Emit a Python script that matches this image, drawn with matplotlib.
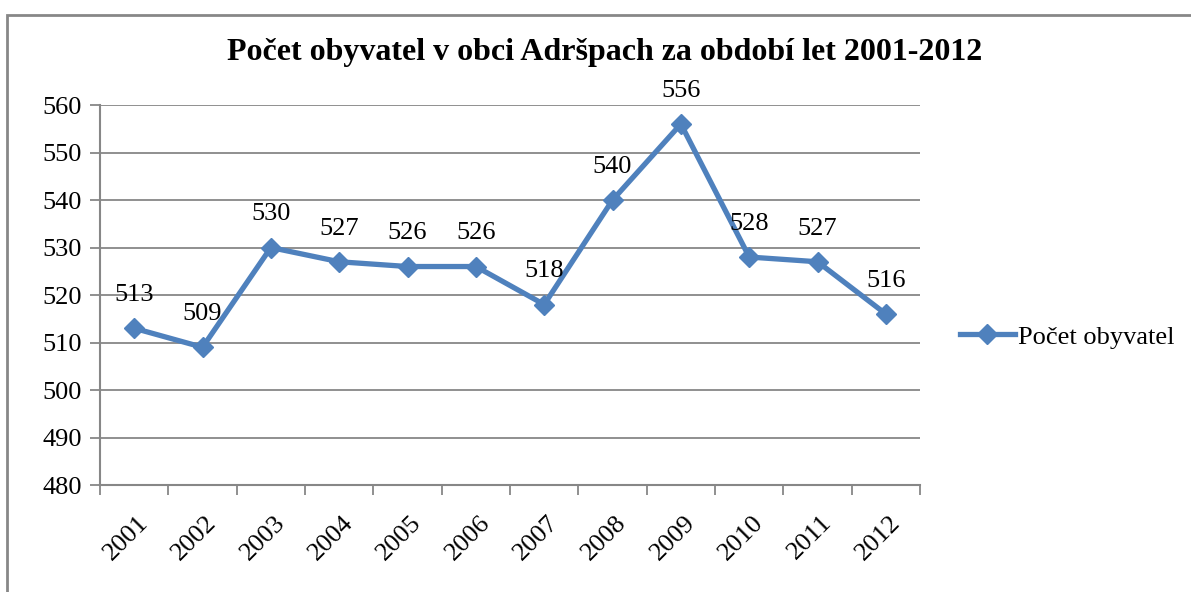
import numpy as np
import matplotlib.pyplot as plt
import matplotlib.transforms as mtransforms
from matplotlib.patches import Rectangle

# data
years = ['2001', '2002', '2003', '2004', '2005', '2006',
         '2007', '2008', '2009', '2010', '2011', '2012']
population = [513, 509, 530, 527, 526, 526, 518, 540, 556, 528, 527, 516]

plt.rcParams['font.family'] = ['Liberation Serif', 'DejaVu Serif']

fig = plt.figure(figsize=(11.91, 5.92), dpi=100)
ax = fig.add_axes([0.084, 0.1807, 0.6885, 0.6419])

# outer chart frame
fig.patches.append(Rectangle((7 / 1191, -0.1), 1.2, 1 - 15 / 592 + 0.1,
                             transform=fig.transFigure, fill=False,
                             edgecolor='#878787', linewidth=2, zorder=0))

grey = '#878787'
x = np.arange(len(years))
line, = ax.plot(x, population, color='#4F81BD', linewidth=3.8, marker='D',
                markersize=10.5, label='Počet obyvatel', zorder=3)

for xi, val in zip(x, population):
    ax.annotate(str(val), (xi, val), xytext=(0, 16), textcoords='offset points',
                ha='center', va='bottom', fontsize=19)

ax.set_xlim(-0.5, len(years) - 0.5)
ax.set_ylim(480, 560)
ax.set_yticks(np.arange(480, 561, 10))
ax.grid(axis='y', color=grey, linewidth=1.3)
ax.set_axisbelow(True)

ax.set_xticks(x)
ax.set_xticklabels(years, rotation=45, ha='right', rotation_mode='anchor')
ax.set_xticks(np.arange(-0.5, len(years), 1), minor=True)
ax.tick_params(axis='x', which='major', length=0, pad=19, labelsize=19)
ax.tick_params(axis='x', which='minor', length=7, width=1.3, color=grey)
ax.tick_params(axis='y', length=7, width=1.3, color=grey, labelsize=19, pad=6)
shift = mtransforms.ScaledTranslation(3 / 100, 0, fig.dpi_scale_trans)
for lbl in ax.get_xticklabels():
    lbl.set_transform(lbl.get_transform() + shift)

for s in ['top', 'right']:
    ax.spines[s].set_visible(False)
for s in ['left', 'bottom']:
    ax.spines[s].set_color(grey)
    ax.spines[s].set_linewidth(1.5)

fig.text(0.508, 0.912, 'Počet obyvatel v obci Adršpach za období let 2001-2012',
         ha='center', va='center', fontsize=23, fontweight='bold')

fig.legend(handles=[line], loc='center left', bbox_to_anchor=(0.797, 0.431),
           frameon=False, fontsize=19, handlelength=2.1, handletextpad=0.1,
           borderaxespad=0)

fig.savefig('out.png', dpi=100)
